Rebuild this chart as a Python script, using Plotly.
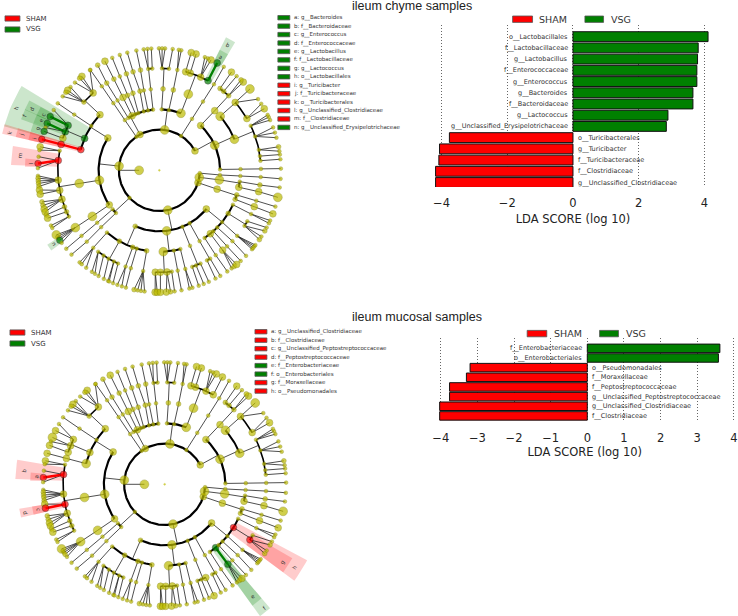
import math
import plotly.graph_objects as go

W, H = 738, 616
RADII = [0, 20.3, 40.7, 61, 81.5, 102, 122]
DIAM = {1: 3.7, 2: 4.8, 3: 6.8, 4: 8.8}
RED, GREEN = "#ff0000", "#008000"
NODE = "#bdbb00"

# ---------- taxonomy tree: [angle, abundance class, *children] ----------
classes = [
 [28.5, 3,
   [0.8, 1, [0.8, 1, [0.8, 1, [0.8, 1]]]],
   [24.3, 4,
     [22.4, 4,
       [5.4, 1, [5.2, 1]], [8, 1, [7.4, 1]], [11.6, 1, [9, 1], [11.1, 2]],
       [19.4, 1, [15.5, 1], [18, 1], [20.6, 1]], [25.9, 1, [24.3, 1], [25.8, 1], [27, 1]]],
     [41.5, 4,
       [30.5, 3, [30.3, 3], [33, 1]], [41.7, 3, [35.7, 1], [41.8, 4]]]],
   [47.2, 3,
     [47, 3, [47, 2, [46.3, 3], [47.8, 2]], [50.7, 2, [50.5, 1]], [53.3, 2, [53.6, 3]]]]],
 [57.5, 1, [57.5, 1, [57.5, 1, [57.5, 1, [58, 1]]]]],
 [82.5, 4,
   [69.2, 4, [69.1, 4,
     [61.4, 3, [61.6, 3]], [66, 3, [64.8, 3], [66.5, 1], [68, 1]],
     [72.3, 3, [72.4, 3]], [75, 3, [74.8, 3]]]],
   [81, 1, [80.1, 2, [79.8, 1, [79.6, 1], [80.8, 1]]]],
   [87.8, 1, [87.4, 2, [84.6, 1, [83.7, 1]], [88.5, 1, [87.3, 1], [88.7, 1], [90.2, 1]]]]],
 [118.5, 3,
   [96, 1, [96.1, 1, [94, 1, [93.8, 1]], [96.3, 1, [95.6, 1], [97.4, 1]]]],
   [100.8, 1, [101, 1, [100.7, 2, [100.9, 1]]]],
   [105, 1, [103.8, 2, [105, 2, [105.3, 1]]]],
   [110.2, 1, [109, 2, [108.9, 2, [109, 1]]]],
   [113, 1, [113, 2, [112.9, 1, [112.8, 1]]]],
   [116.7, 3, [116.6, 3, [116.6, 2, [116.6, 3]]]],
   [120.8, 1, [121, 1, [121.2, 2, [120.5, 2]]]]],
 [124.6, 1, [124.6, 1, [124.5, 1, [124.5, 1, [124.6, 1]]]]],
 [174, 4,
   [148, 3,
     [137, 3,
       [130.7, 3, [124.8, 1], [129.6, 3], [131, 2], [134, 1]],
       [138, 2, [137, 1], [139, 3], [140.3, 2], [142.7, 1]]],
     [147, 1, [146.9, 1, [146.7, 1]]],
     [157, 3,
       [153.9, 3, [150.4, 1], [153.9, 2]], [157.8, 3, [157.4, 2], [159.5, 1]], [161.7, 3, [161.4, 2]]],
     [165.3, 3, [165.3, 3, [165.3, 2]]]],
   [189.4, 4, [189.3, 4,
     [168.9, 1, [168.9, 3], [170.5, 1]],
     [174.5, 3, [173.6, 1], [176.8, 2], [179, 1]],
     [185.5, 3, [182.6, 1], [183.7, 2], [185, 2], [186.2, 2], [187.6, 2]],
     [191.3, 3, [189.3, 3], [191.3, 3]],
     [196.5, 3, [195, 2], [196.7, 2], [198.5, 3], [200, 3]],
     [201, 2, [201.5, 2]], [204, 2, [203.1, 3]], [207, 1, [206.9, 1], [208.2, 1]]]],
   [214.5, 3, [214.4, 4, [214.2, 4, [212, 4], [213, 1], [214, 1], [215, 2], [216.5, 1]]]]],
 [222.7, 1,
   [219.7, 1, [220, 1, [220, 1, [220, 1]]]],
   [224.4, 1, [224.2, 1, [224.4, 1, [223.7, 1]]]]],
 [282, 4,
   [246.6, 2,
     [229.8, 1, [229.4, 1, [229, 1], [230.3, 1], [233, 1]]],
     [240.5, 2,
       [233, 1, [236.3, 1], [238, 1]], [236.7, 1, [240, 1]], [240, 1, [242.8, 1]],
       [243.4, 1, [245, 1], [245.6, 1]], [246, 1, [247.6, 1]]],
     [250.8, 2, [250.6, 1, [249.8, 1], [252, 1]]],
     [253.8, 1, [253.7, 1, [254, 1]]],
     [261, 2, [260.8, 1, [258, 2], [259.7, 1], [261.3, 1], [263, 1]]]],
   [276.9, 4,
     [272.8, 4,
       [267.7, 3, [268, 3], [269, 3]], [270.6, 3, [270.5, 3]],
       [274.3, 3, [273.3, 3], [275.3, 2]], [277, 1, [277.2, 1]]],
     [280.3, 1, [280.4, 1, [280.5, 1]]],
     [285, 1, [284.8, 1, [284.3, 1], [285.8, 1]]]],
   [292.3, 1, [292.2, 1, [288.9, 1, [288.9, 1]], [291.2, 1, [291.4, 1]], [293.9, 1, [294, 1]]]],
   [299.9, 1, [299.7, 1, [298, 1, [297.5, 1]], [300, 1, [300.1, 1]]]],
   [320.6, 3,
     [303.9, 1, [303.7, 1, [304, 1]]],
     [308.9, 3, [308.5, 3, [306.5, 1], [308, 2], [309.5, 3]]],
     [311.7, 1, [311.8, 1, [312, 1]]],
     [315.5, 1, [316, 1, [315.5, 1]]],
     [320.6, 1, [320, 1, [319.7, 1], [320.5, 1], [321.4, 1], [322.2, 1]]],
     [328, 2, [327, 1, [325.4, 2], [327.1, 1], [330.2, 2]], [330, 1, [332, 1]]],
     [335, 1, [334.6, 1, [334.3, 1], [335.7, 1]]]]],
 [342.3, 3, [342, 3, [339.1, 2, [339.1, 3, [339.1, 3]]], [342.4, 2, [342.6, 1, [342.7, 1]]]]],
 [350, 4, [351, 4, [348, 3, [347.9, 3, [347.2, 4]]], [352, 1, [351.7, 2, [351.9, 1]]]]],
 [356, 1, [355.6, 1, [356, 1, [356.2, 1, [356, 1]]]]],
]
phylum_node = [180, 4] + classes

# biomarkers keyed by (level, angle)
chyme_green = [(4, 157), (5, 153.9), (5, 157.8), (6, 153.9), (6, 157.4), (6, 161.4), (5, 61.4), (6, 61.6), (6, 215)]
chyme_red = [(4, 165.3), (5, 165.3), (6, 165.3), (5, 174.5), (6, 176.8)]
mucosal_green = [(4, 308.9), (5, 308.5)]
mucosal_red = [(5, 174.5), (6, 176.8), (5, 191.3), (6, 191.3), (4, 328), (5, 327)]
mucosal_sizes = {(5, 161.7): 3, (6, 153.9): 3, (6, 157.4): 4, (6, 161.4): 3, (5, 165.3): 3, (6, 165.3): 3,
                 (4, 165.3): 4, (6, 294): 3, (5, 293.9): 3, (6, 157.8): 3}

# highlight wedges: letter, colour, inner level, outer radius, start, end, label radius, label angle
chyme_wedges = [
 ("h", "g", 4, 162, 148.6, 164.2, 156, 156.6), ("d", "g", 5, 148, 151.9, 155.9, 142, 154.4),
 ("f", "g", 5, 148, 155.6, 159.8, 146, 157.7), ("c", "g", 6, 135, 152, 155.9, 129, 154.6),
 ("e", "g", 6, 135, 155.6, 159.4, 129, 157), ("g", "g", 6, 135, 159.5, 163.3, 129, 161),
 ("k", "r", 4, 162, 163.5, 167, 155, 166), ("j", "r", 5, 148, 163.5, 167, 142, 165.6),
 ("i", "r", 6, 135, 163.5, 167, 129, 165.7), ("m", "r", 5, 149, 170.6, 178, 141, 174),
 ("l", "r", 6, 135, 175, 178.5, 129, 176.8), ("n", "g", 6, 135, 213.5, 216.5, 129, 215),
 ("b", "g", 5, 149, 59.3, 63.3, 143, 61.3), ("a", "g", 6, 135, 59.3, 63.3, 129, 61.6),
]
mucosal_wedges = [
 ("b", "r", 5, 150, 170.6, 178, 142, 174.5), ("a", "r", 6, 135, 175, 178.5, 129, 176.8),
 ("d", "r", 5, 148, 189.5, 193, 143, 191.7), ("c", "r", 6, 135, 189.5, 193, 129, 191.4),
 ("h", "r", 4, 162, 323.5, 332, 155, 327.6), ("g", "r", 5, 148, 323.5, 330, 142, 326.6),
 ("f", "g", 4, 163, 306, 310.5, 159, 309), ("e", "g", 5, 150, 306, 310.5, 143, 308.5),
]

# ---------- LDA bars ----------
chyme_names = ["o__Lactobacillales", "f__Lactobacillaceae", "g__Lactobacillus", "f__Enterococcaceae",
               "g__Enterococcus", "g__Bacteroides", "f__Bacteroidaceae", "g__Lactococcus",
               "g__Unclassified_Erysipelotrichaceae", "o__Turicibacterales", "g__Turicibacter",
               "f__Turicibacteraceae", "f__Clostridiaceae", "g__Unclassified_Clostridiaceae"]
chyme_lda = [4.11, 3.81, 3.79, 3.77, 3.77, 3.65, 3.65, 2.89, 2.84, -3.76, -4.06, -4.08, -4.18, -4.18]
mucosal_names = ["f__Enterobacteriaceae", "o__Enterobacteriales", "o__Pseudomonadales", "f__Moraxellaceae",
                 "f__Peptostreptococcaceae", "g__Unclassified_Peptostreptococcaceae",
                 "g__Unclassified_Clostridiaceae", "f__Clostridiaceae"]
mucosal_lda = [3.62, 3.58, -3.2, -3.3, -3.76, -3.76, -4.03, -4.03]

chyme_key = ["a: g__Bacteroides", "b: f__Bacteroidaceae", "c: g__Enterococcus", "d: f__Enterococcaceae",
             "e: g__Lactobacillus", "f: f__Lactobacillaceae", "g: g__Lactococcus", "h: o__Lactobacillales",
             "i: g__Turicibacter", "j: f__Turicibacteraceae", "k: o__Turicibacterales",
             "l: g__Unclassified_Clostridiaceae", "m: f__Clostridiaceae", "n: g__Unclassified_Erysipelotrichaceae"]
chyme_key_class = ["VSG"] * 8 + ["SHAM"] * 5 + ["VSG"]
mucosal_key = ["a: g__Unclassified_Clostridiaceae", "b: f__Clostridiaceae", "c: g__Unclassified_Peptostreptococcaceae",
               "d: f__Peptostreptococcaceae", "e: f__Enterobacteriaceae", "f: o__Enterobacteriales",
               "g: f__Moraxellaceae", "h: o__Pseudomonadales"]
mucosal_key_class = ["SHAM"] * 4 + ["VSG"] * 2 + ["SHAM"] * 2
CLASS_COLOR = {"SHAM": RED, "VSG": GREEN}


def xy(r, a):
    return r * math.cos(math.radians(a)), r * math.sin(math.radians(a))


def px(x):
    return x / W


def py(y):
    return 1 - y / H


def build(tree, green, red, sizes):
    colour = {k: GREEN for k in green}
    colour.update({k: RED for k in red})
    nodes, thin, thick, hot = [], ([], []), {}, {GREEN: ([], []), RED: ([], [])}

    def seg(store, p, q):
        store[0].extend([p[0], q[0], None])
        store[1].extend([p[1], q[1], None])

    def walk(node, level):
        a, s = node[0], node[1]
        kids = node[2:]
        nodes.append((level, a, sizes.get((level, a), s), colour.get((level, a))))
        if not kids:
            return
        cl = level + 1
        p = xy(RADII[level], a)
        if len(kids) == 1 or cl == 6:
            for k in kids:
                q = xy(RADII[cl], k[0])
                c1, c2 = colour.get((level, a)), colour.get((cl, k[0]))
                seg(hot[c1] if c1 and c1 == c2 else thin, p, q)
        else:
            seg(thin, p, xy(RADII[cl], a))
            angs = [k[0] for k in kids] + [a]
            lo, hi = min(angs), max(angs)
            store = thick.setdefault(cl, ([], []))
            n = max(2, int((hi - lo) / 1.5) + 2)
            for i in range(n):
                pt = xy(RADII[cl], lo + (hi - lo) * i / (n - 1))
                store[0].append(pt[0])
                store[1].append(pt[1])
            store[0].append(None)
            store[1].append(None)
        for k in kids:
            walk(k, cl)

    walk(tree, 1)
    return nodes, thin, thick, hot


fig = go.Figure()
annots, shapes = [], []
THICK_W = {2: 2.2, 3: 2.2, 4: 2.0, 5: 1.6}


def clade(xa, ya, wedges, green, red, sizes):
    nodes, thin, thick, hot = build(phylum_node, green, red, sizes)
    for w in wedges:
        letter, c, lev, rout, a0, a1, lr, la = w
        xs, ys = [], []
        n = 10
        for i in range(n + 1):
            pt = xy(RADII[lev], a0 + (a1 - a0) * i / n)
            xs.append(pt[0]); ys.append(pt[1])
        for i in range(n + 1):
            pt = xy(rout, a1 - (a1 - a0) * i / n)
            xs.append(pt[0]); ys.append(pt[1])
        col = "rgba(255,0,0,0.2)" if c == "r" else "rgba(0,128,0,0.2)"
        fig.add_trace(go.Scatter(x=xs, y=ys, mode="lines", fill="toself", fillcolor=col,
                                 line=dict(width=0), xaxis=xa, yaxis=ya, hoverinfo="skip", showlegend=False))
        lx, ly = xy(lr, la)
        ang = 90 - la
        while ang > 90:
            ang -= 180
        while ang < -90:
            ang += 180
        annots.append(dict(x=lx, y=ly, xref=xa, yref=ya, text=letter, showarrow=False, textangle=ang,
                           font=dict(size=5.5, color="#333", family="DejaVu Sans")))
    fig.add_trace(go.Scatter(x=thin[0], y=thin[1], mode="lines", line=dict(color="#222", width=0.8),
                             xaxis=xa, yaxis=ya, hoverinfo="skip", showlegend=False))
    for lev, st in thick.items():
        fig.add_trace(go.Scatter(x=st[0], y=st[1], mode="lines", line=dict(color="black", width=THICK_W[lev]),
                                 xaxis=xa, yaxis=ya, hoverinfo="skip", showlegend=False))
    for col, st in hot.items():
        if st[0]:
            fig.add_trace(go.Scatter(x=st[0], y=st[1], mode="lines", line=dict(color=col, width=2.4),
                                     xaxis=xa, yaxis=ya, hoverinfo="skip", showlegend=False))
    xs, ys, ss, cs, ec = [0], [0], [1.8], [NODE], [NODE]
    for lev, a, s, c in nodes:
        pt = xy(RADII[lev], a)
        xs.append(pt[0]); ys.append(pt[1])
        ss.append(max(DIAM[s], 6.6) if c else DIAM[s])
        cs.append(c or NODE)
        ec.append("#111" if c else "#7d7d00")
    fig.add_trace(go.Scatter(x=xs, y=ys, mode="markers", xaxis=xa, yaxis=ya, showlegend=False, hoverinfo="skip",
                             marker=dict(size=ss, color=cs, line=dict(color=ec, width=0.5))))


clade("x3", "y3", chyme_wedges, chyme_green, chyme_red, {})
clade("x4", "y4", mucosal_wedges, mucosal_green, mucosal_red, mucosal_sizes)


def bars(xa, ya, names, vals, bw, xshift=3):
    fig.add_trace(go.Bar(y=names, x=vals, orientation="h", xaxis=xa, yaxis=ya, width=bw, showlegend=False,
                         marker=dict(color=[GREEN if v > 0 else RED for v in vals],
                                     line=dict(color="#111", width=1))))
    for n, v in zip(names, vals):
        annots.append(dict(x=0, y=n, xref=xa, yref=ya, text=n, showarrow=False,
                           xanchor="right" if v > 0 else "left", xshift=-xshift if v > 0 else xshift,
                           font=dict(size=6.5, color="#333", family="DejaVu Sans")))


bars("x", "y", chyme_names, chyme_lda, 0.88)
bars("x2", "y2", mucosal_names, mucosal_lda, 0.88)


def rect(x0, y0, x1, y1, c):
    shapes.append(dict(type="rect", xref="paper", yref="paper", x0=px(x0), x1=px(x1), y0=py(y1), y1=py(y0),
                       fillcolor=c, line=dict(color="#555", width=0.8)))


def label(x, y, t, size, color="#333", family="DejaVu Sans", anchor="left"):
    annots.append(dict(x=px(x), y=py(y), xref="paper", yref="paper", text=t, showarrow=False, xanchor=anchor,
                       yanchor="middle", xshift=-2 if anchor == "left" else 0,
                       font=dict(size=size, color=color, family=family)))


for (x0, yy, txt) in [(3, 18.5, "SHAM"), (3, 29.5, "VSG"), (8, 332.5, "SHAM"), (8, 343.5, "VSG")]:
    rect(x0, yy - 2.6, x0 + 15, yy + 2.6, CLASS_COLOR[txt])
    label(x0 + 21, yy, txt, 7)

for i, (t, c) in enumerate(zip(chyme_key, chyme_key_class)):
    yy = 17.7 + i * 8.44
    rect(277, yy - 2.2, 289, yy + 2.2, CLASS_COLOR[c])
    label(293, yy, t, 5.5)
for i, (t, c) in enumerate(zip(mucosal_key, mucosal_key_class)):
    yy = 331.7 + i * 8.48
    rect(254, yy - 2.2, 266, yy + 2.2, CLASS_COLOR[c])
    label(270, yy, t, 5.5)

for (x0, x1, xt, yy, txt) in [(512.7, 532.7, 539, 19.2, "SHAM"), (585.3, 604, 611.7, 19.2, "VSG"),
                              (527.3, 547, 554.3, 333.6, "SHAM"), (600, 619, 626.7, 333.6, "VSG")]:
    rect(x0, yy - 3.2, x1, yy + 3.2, CLASS_COLOR[txt])
    label(xt, yy, txt, 9.5)

label(411.7, 6.5, "ileum chyme samples", 12.5, "#222", "Liberation Sans", "center")
label(417, 317, "ileum mucosal samples", 12.5, "#222", "Liberation Sans", "center")

axis_common = dict(showgrid=True, griddash="1px,2px", gridcolor="#666", gridwidth=0.8, zeroline=False,
                   showline=False, ticks="outside", ticklen=5, tickcolor="rgba(0,0,0,0)",
                   ticklabeloverflow="allow",
                   tickfont=dict(size=11.5, color="#222", family="DejaVu Sans"))
title_font = dict(size=11.5, color="#222", family="DejaVu Sans")
hidden = dict(visible=False, fixedrange=True)

fig.update_layout(
    width=W, height=H, margin=dict(l=0, r=0, t=0, b=0), paper_bgcolor="white", plot_bgcolor="rgba(0,0,0,0)",
    showlegend=False, annotations=annots, shapes=shapes, bargap=0.1,
    xaxis=dict(domain=[px(434.7), px(711.9)], range=[-4.2, 4.2], tickvals=[-4, -2, 0, 2, 4], anchor="y",
               title=dict(text="LDA SCORE (log 10)", font=title_font, standoff=6), **axis_common),
    yaxis=dict(domain=[py(187), py(25)], range=[13.4, -1.04], visible=False, type="category", anchor="x",
               categoryorder="array", categoryarray=chyme_names),
    xaxis2=dict(domain=[px(433.2), px(737)], range=[-4.2, 4.06], tickvals=[-4, -3, -2, -1, 0, 1, 2, 3, 4], anchor="y2",
                title=dict(text="LDA SCORE (log 10)", font=title_font, standoff=4), **axis_common),
    yaxis2=dict(domain=[py(421.7), py(338)], range=[7.6, -1.07], visible=False, type="category", anchor="x2",
                categoryorder="array", categoryarray=mucosal_names),
    xaxis3=dict(domain=[0, px(300)], range=[-158, 142], anchor="y3", **hidden),
    yaxis3=dict(domain=[py(300), py(0)], range=[-129.7, 170.3], anchor="x3", **hidden),
    xaxis4=dict(domain=[0, px(320)], range=[-163.3, 156.7], anchor="y4", **hidden),
    yaxis4=dict(domain=[py(616), py(310)], range=[-131.7, 174.3], anchor="x4", **hidden),
)

fig.write_html("out.html", config={"displayModeBar": False},
               post_script="document.body.style.margin='0';document.body.style.overflow='hidden';")
